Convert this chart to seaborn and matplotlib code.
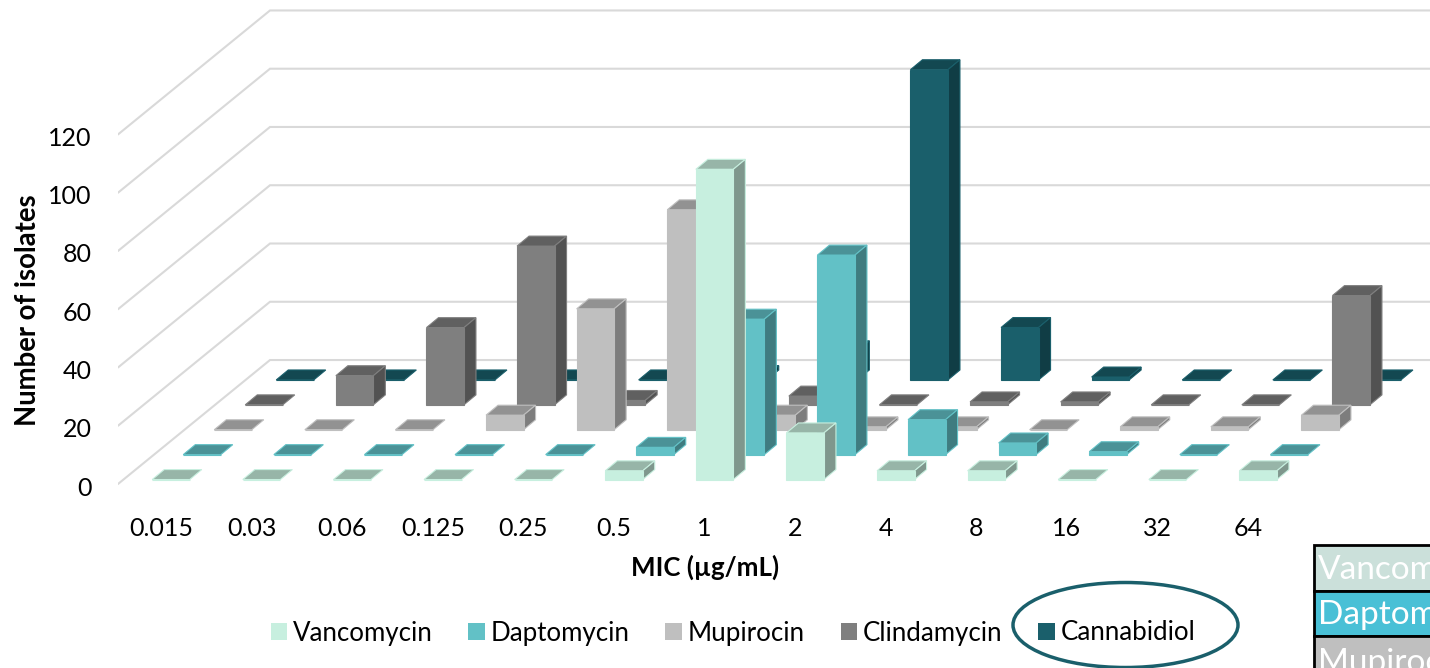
import numpy as np
import matplotlib
matplotlib.use('Agg')
import matplotlib.pyplot as plt
import seaborn as sns
from matplotlib.patches import Polygon, Rectangle, Ellipse, Patch

mic_labels = ['0.015', '0.03', '0.06', '0.125', '0.25', '0.5', '1', '2', '4', '8', '16', '32', '64']
y_ticks = [0, 20, 40, 60, 80, 100, 120]

vancomycin = [0, 0, 0, 0, 0, 3, 106.5, 16, 3, 3, 0, 0, 3]
daptomycin = [0, 0, 0, 0, 0, 2.5, 46.5, 68.5, 12, 4, 1, 0, 0]
mupirocin = [0, 0, 0, 5, 41.5, 75.5, 5, 1, 1, 0, 1, 1, 5]
clindamycin = [0, 10, 26.5, 54.5, 1.5, 1.5, 3, 0, 1, 1, 0, 0, 37.5]
cannabidiol = [0, 0, 0, 0, 0, 1.5, 10, 106.5, 18, 1, 0, 0, 0]

names = ['Vancomycin', 'Daptomycin', 'Mupirocin', 'Clindamycin', 'Cannabidiol']
series = [vancomycin, daptomycin, mupirocin, clindamycin, cannabidiol]
face_cols = ['#C7EFDF', '#62C1C6', '#BFBFBF', '#7F7F7F', '#1A5F6B']
top_cols = ['#97B5A8', '#4B9297', '#929292', '#606060', '#134851']
side_cols = ['#7F978D', '#3F7C80', '#7D7D7D', '#525252', '#103D45']

sns.set_theme(style='white')
plt.rcParams['font.family'] = ['Lato', 'DejaVu Sans']

W, H = 1430, 668
fig = plt.figure(figsize=(W / 100, H / 100), dpi=100)
# axes covers the chart area, floor front edge is at the bottom of it
ax = fig.add_axes([118 / W, (H - 486) / H, (W - 118) / W, 486 / H])

# pixels per data unit
px_x = 90.6
px_y = 2.925
x_left, x_right = (118 - 171) / px_x, (W - 171) / px_x
ax.set_xlim(x_left, x_right)
ax.set_ylim(0, 486 / px_y)

# oblique projection steps, in data units
row_dx, row_dy = 31 / px_x, 25 / px_y
base0 = 4.5 / px_y
bar_w = 37.5 / px_x
depth_dx, depth_dy = 12 / px_x, 10 / px_y
wall_dx, wall_dy = 152 / px_x, 124.5 / px_y

# gridlines on the side wall and back wall
for v in y_ticks:
    ax.plot([x_left, x_left + wall_dx, x_right],
            [v, v + wall_dy, v + wall_dy], color='#D9D9D9', lw=1.5, zorder=1,
            solid_joinstyle='miter')

idx = np.arange(len(mic_labels))
for row, vals in enumerate(series):
    z = 10 * (len(series) - row)
    base = base0 + row * row_dy
    xs = idx + row * row_dx
    sns.barplot(x=xs, y=vals, native_scale=True, orient='x', bottom=base, width=bar_w,
                color=face_cols[row], saturation=1, errorbar=None, ax=ax,
                edgecolor=face_cols[row], linewidth=0.8, zorder=z + 1)
    for x, v in zip(xs, vals):
        l, r = x - bar_w / 2, x + bar_w / 2
        t = base + v
        ax.add_patch(Polygon([(l, t), (r, t), (r + depth_dx, t + depth_dy), (l + depth_dx, t + depth_dy)],
                             facecolor=top_cols[row], edgecolor=face_cols[row], lw=0.8, zorder=z))
        if v > 0:
            ax.add_patch(Polygon([(r, base), (r + depth_dx, base + depth_dy), (r + depth_dx, t + depth_dy), (r, t)],
                                 facecolor=side_cols[row], edgecolor=face_cols[row], lw=0.8, zorder=z))

for side in ax.spines.values():
    side.set_visible(False)
ax.set_facecolor('none')
ax.set_xlim(x_left, x_right)
ax.set_ylim(0, 486 / px_y)
ax.set_xticks(idx - 10 / px_x)
ax.set_xticklabels(mic_labels)
ax.set_yticks(np.array(y_ticks) - 2 / px_y)
ax.set_yticklabels([str(v) for v in y_ticks])
ax.tick_params(axis='both', length=0, labelsize=18, labelcolor='black')
ax.tick_params(axis='x', pad=22)
ax.tick_params(axis='y', pad=19)
ax.set_xlabel('MIC (µg/mL)', fontsize=18.6, fontweight='bold', color='black')
ax.xaxis.set_label_coords((705 - 118) / (W - 118), -(567 - 486) / 486, transform=ax.transAxes)
ax.xaxis.label.set_verticalalignment('center')
ax.set_ylabel('Number of isolates', fontsize=19.8, fontweight='bold', color='black')
ax.yaxis.set_label_coords(-(118 - 28) / (W - 118), (486 - 310) / 486, transform=ax.transAxes)
ax.yaxis.label.set_verticalalignment('center')

handles = [Patch(facecolor=c, edgecolor='none', label=n) for c, n in zip(face_cols, names)]
fig.legend(handles=handles, loc='center', bbox_to_anchor=(733 / W, (H - 633) / H), ncol=5, frameon=False,
           fontsize=18.6, handlelength=0.65, handleheight=0.65, handletextpad=0.22, columnspacing=1.38,
           labelcolor='black')


def fx(px):
    return px / W


def fy(py):
    return (H - py) / H


# circled legend entry
fig.add_artist(Ellipse((fx(1125.5), fy(625)), 225 / W, 85 / H, transform=fig.transFigure,
                       facecolor='none', edgecolor='#1A5F6B', lw=2.5))

# table running off the lower right corner, only the start of each name shows
cells = [(545, 591, '#CBE0DA', names[0][:6]), (591, 636, '#49C0D6', names[1][:6]), (636, 690, '#BFBFBF', names[2][:7])]
for y0, y1, col, name in cells:
    fig.add_artist(Rectangle((fx(1314), fy(y1)), (W + 20 - 1314) / W, (y1 - y0) / H, transform=fig.transFigure,
                             facecolor=col, edgecolor='black', lw=2))
    fig.text(fx(1318), fy((y0 + y1) / 2 + 2 if y1 < 670 else 663), name, color='white', fontsize=24,
             ha='left', va='center')

fig.savefig('out.png', dpi=100)
